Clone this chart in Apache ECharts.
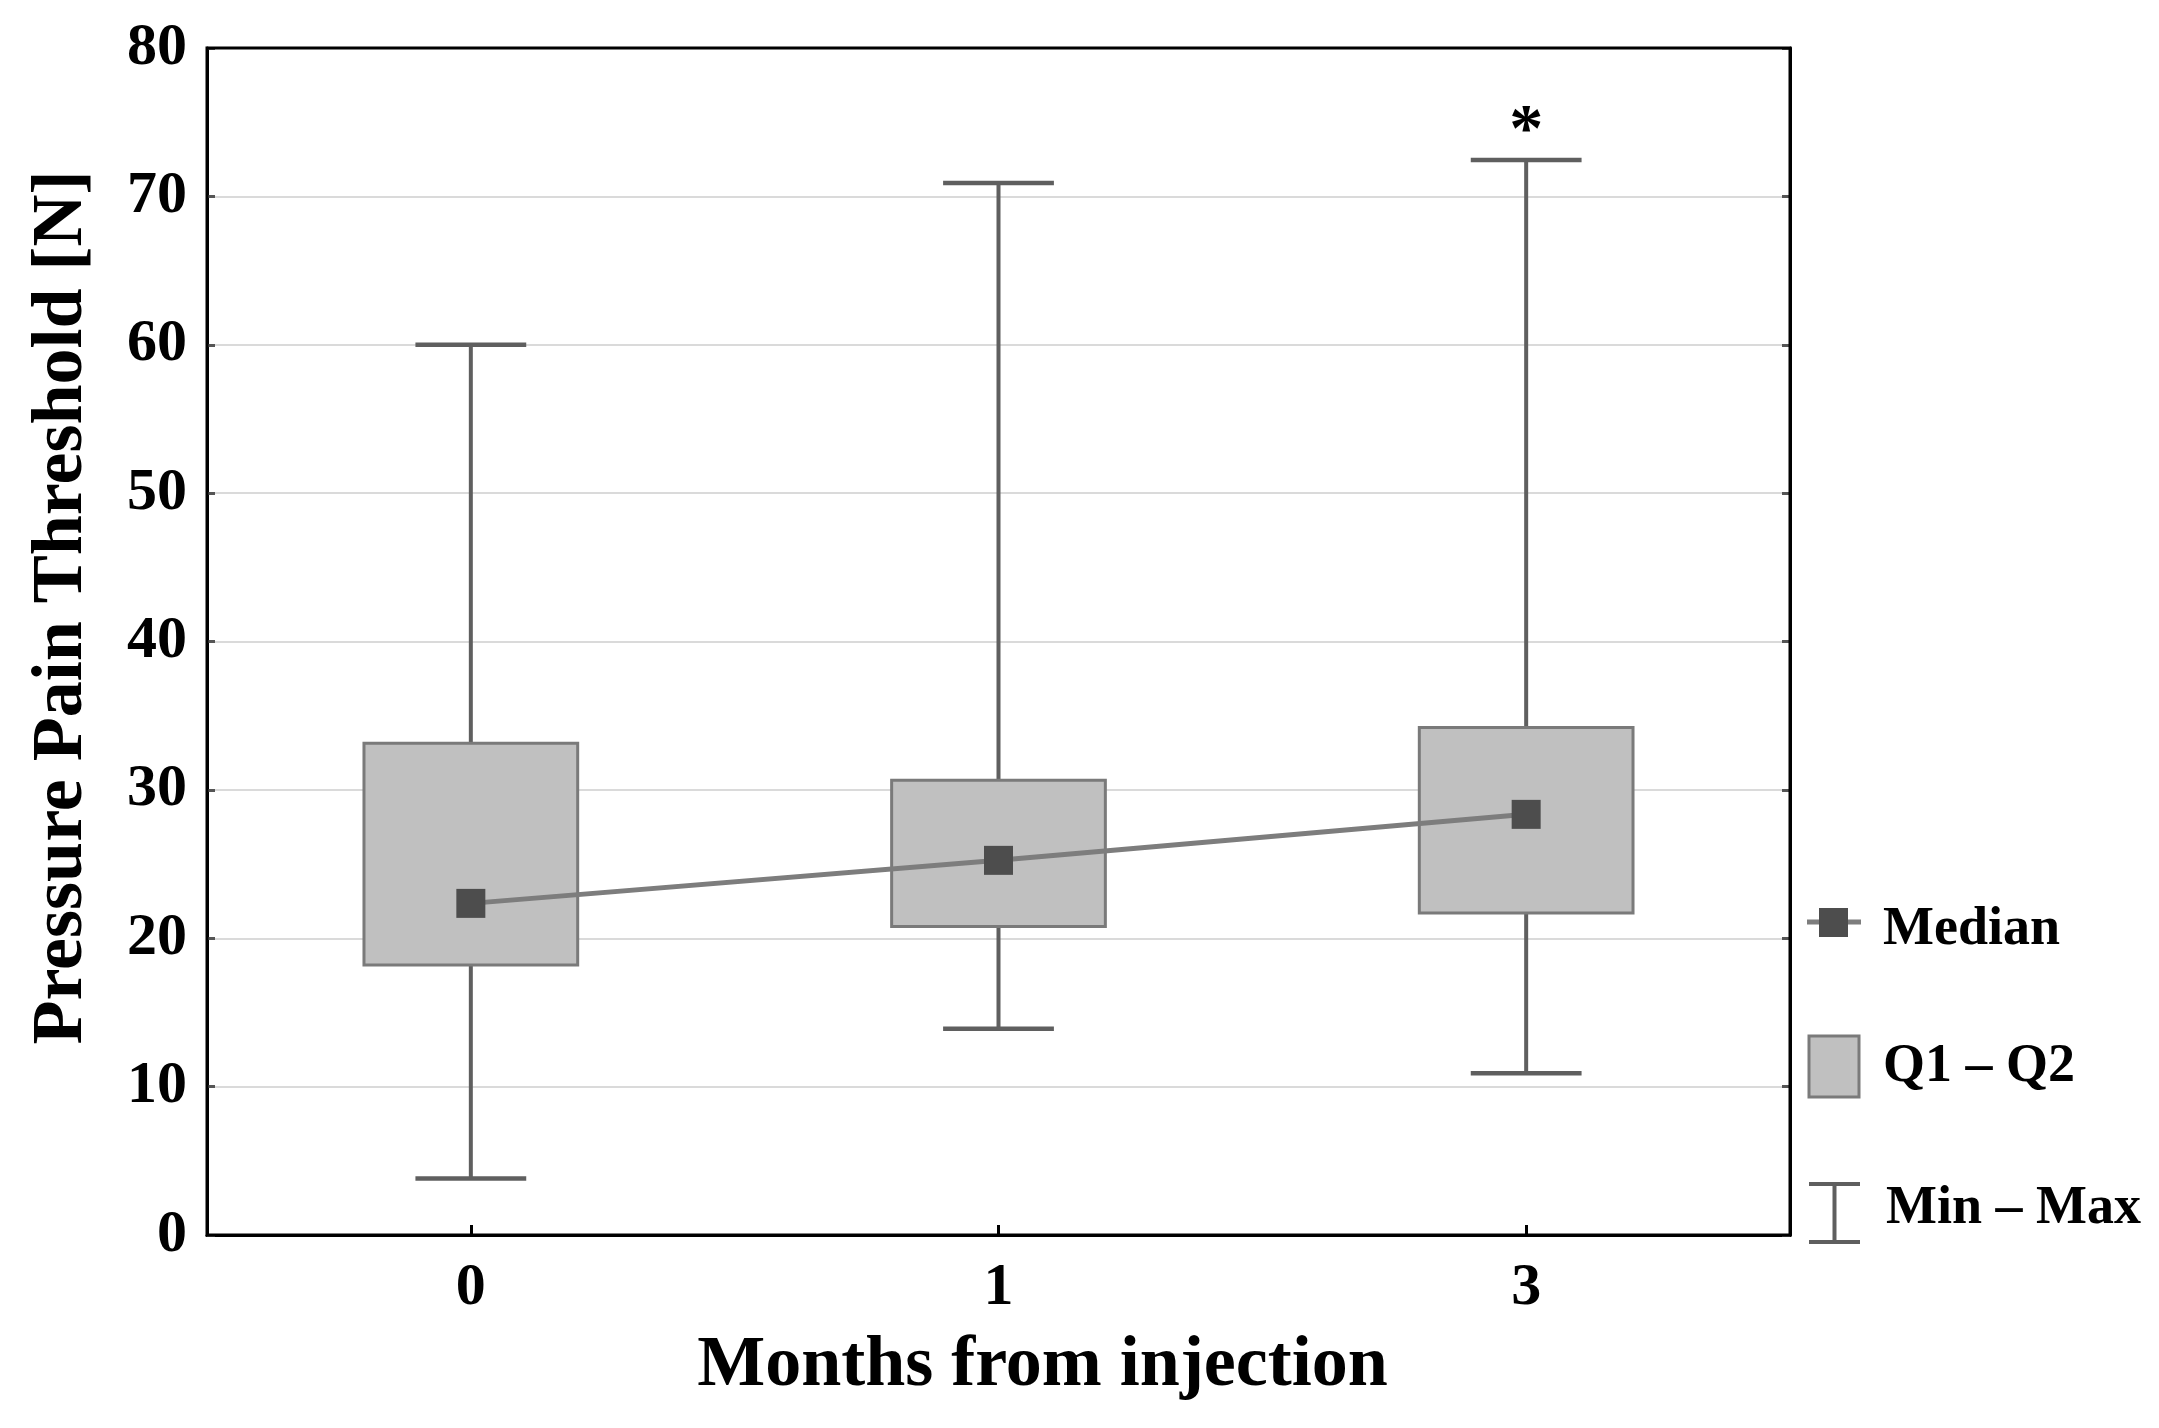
<!DOCTYPE html>
<html>
<head>
<meta charset="utf-8">
<script src="https://cdn.jsdelivr.net/npm/echarts@6/dist/echarts.min.js"></script>
<style>
html,body{margin:0;padding:0;background:#fff;}
#chart{width:2159px;height:1428px;}
</style>
</head>
<body>
<div id="chart"></div>
<script>
// ---- data ----
var categories = ['0', '1', '3'];
var mins    = [3.8, 13.9, 10.9];
var q1      = [18.2, 20.8, 21.7];
var medians = [22.35, 25.25, 28.35];
var q3      = [33.15, 30.65, 34.2];
var maxs    = [60.0, 70.9, 72.45];
var significance = ['', '', '*'];
var yTicks = [0, 10, 20, 30, 40, 50, 60, 70, 80];
var legendLabels = ['Median', 'Q1 \u2013 Q2', 'Min \u2013 Max'];

var FONT = '"Liberation Serif", "Times New Roman", serif';
var BOX_FILL = '#c0c0c0', BOX_EDGE = '#7a7a7a', WHISK = '#5f5f5f';
var MED_LINE = '#7d7d7d', MED_MARK = '#4d4d4d';

var boxData = categories.map(function (c, i) {
  return [i, mins[i], q1[i], q3[i], maxs[i]];
});

function renderBox(params, api) {
  var i = api.value(0);
  var pMin = api.coord([i, api.value(1)]);
  var pQ1 = api.coord([i, api.value(2)]);
  var pQ3 = api.coord([i, api.value(3)]);
  var pMax = api.coord([i, api.value(4)]);
  var band = api.size([1, 0])[0];
  var bw = band * 0.405, cw = band * 0.21;
  var cx = pMin[0];
  var children = [
    {type: 'line', shape: {x1: cx, y1: pMin[1], x2: cx, y2: pMax[1]},
     style: {stroke: WHISK, lineWidth: 4}},
    {type: 'rect', shape: {x: cx - bw / 2, y: pQ3[1], width: bw, height: pQ1[1] - pQ3[1]},
     style: {fill: BOX_FILL, stroke: BOX_EDGE, lineWidth: 3}},
    {type: 'line', shape: {x1: cx - cw / 2, y1: pMin[1], x2: cx + cw / 2, y2: pMin[1]},
     style: {stroke: WHISK, lineWidth: 4.5}},
    {type: 'line', shape: {x1: cx - cw / 2, y1: pMax[1], x2: cx + cw / 2, y2: pMax[1]},
     style: {stroke: WHISK, lineWidth: 4.5}}
  ];
  var sig = significance[params.dataIndex];
  if (sig) {
    children.push({type: 'text', style: {text: sig, x: cx, y: pMax[1] - 28,
      fontSize: 68, fontWeight: 'bold', fontFamily: FONT, fill: '#000',
      align: 'center', verticalAlign: 'middle'}});
  }
  return {type: 'group', children: children};
}

var chart = echarts.init(document.getElementById('chart'));
var labelStyle = {fontFamily: FONT, fontWeight: 'bold', fontSize: 60, color: '#000'};

var option = {
  backgroundColor: '#fff',
  animation: false,
  grid: {left: 207, right: 369, top: 48, bottom: 193, show: true,
         borderColor: '#000', borderWidth: 3, backgroundColor: 'transparent', z: 5},
  xAxis: {
    type: 'category', data: categories, boundaryGap: true,
    name: 'Months from injection', nameLocation: 'middle', nameGap: 95,
    nameTextStyle: {fontFamily: FONT, fontWeight: 'bold', fontSize: 72, color: '#000', padding: [0, 0, 0, 88]},
    axisLine: {show: true, lineStyle: {color: '#000', width: 3}},
    axisTick: {show: true, inside: true, alignWithLabel: true, length: 10, lineStyle: {color: '#000', width: 3}},
    axisLabel: Object.assign({margin: 23}, labelStyle),
    splitLine: {show: false}
  },
  yAxis: [{
    type: 'value', min: yTicks[0], max: yTicks[yTicks.length - 1], interval: yTicks[1] - yTicks[0],
    name: 'Pressure Pain Threshold [N]', nameLocation: 'middle', nameGap: 109, nameRotate: 90,
    nameTextStyle: {fontFamily: FONT, fontWeight: 'bold', fontSize: 72, color: '#000', padding: [0, 0, 0, 68]},
    axisLine: {show: true, lineStyle: {color: '#000', width: 3}},
    axisTick: {show: true, inside: true, length: 8, lineStyle: {color: '#555', width: 3}},
    axisLabel: Object.assign({margin: 20}, labelStyle),
    splitLine: {show: true, showMinLine: false, showMaxLine: false, lineStyle: {color: '#dadada', width: 2}}
  }, {
    type: 'value', position: 'right', min: yTicks[0], max: yTicks[yTicks.length - 1], interval: yTicks[1] - yTicks[0],
    axisLine: {show: true, lineStyle: {color: '#000', width: 3}},
    axisTick: {show: true, inside: true, length: 8, lineStyle: {color: '#555', width: 3}},
    axisLabel: {show: false},
    splitLine: {show: false}
  }],
  series: [{
    type: 'custom', name: 'Q1 \u2013 Q2', renderItem: renderBox, data: boxData,
    encode: {x: 0, y: [1, 2, 3, 4]}, z: 2
  }, {
    type: 'line', name: 'Median', data: medians, symbol: 'rect', symbolSize: 29,
    itemStyle: {color: MED_MARK}, lineStyle: {color: MED_LINE, width: 5}, z: 3
  }],
  graphic: [
    {type: 'line', shape: {x1: 1807, y1: 922, x2: 1861, y2: 922}, style: {stroke: MED_LINE, lineWidth: 5}},
    {type: 'rect', shape: {x: 1819, y: 908, width: 29, height: 29}, style: {fill: MED_MARK}},
    {type: 'text', style: {text: legendLabels[0], x: 1883, y: 930, fontFamily: FONT, fontWeight: 'bold', fontSize: 54, fill: '#000', verticalAlign: 'middle'}},
    {type: 'rect', shape: {x: 1809, y: 1036, width: 50, height: 61}, style: {fill: BOX_FILL, stroke: BOX_EDGE, lineWidth: 3}},
    {type: 'text', style: {text: legendLabels[1], x: 1883, y: 1067, fontFamily: FONT, fontWeight: 'bold', fontSize: 54, fill: '#000', verticalAlign: 'middle'}},
    {type: 'line', shape: {x1: 1809, y1: 1184, x2: 1860, y2: 1184}, style: {stroke: WHISK, lineWidth: 4}},
    {type: 'line', shape: {x1: 1834.5, y1: 1184, x2: 1834.5, y2: 1242}, style: {stroke: WHISK, lineWidth: 4}},
    {type: 'line', shape: {x1: 1809, y1: 1242, x2: 1860, y2: 1242}, style: {stroke: WHISK, lineWidth: 4}},
    {type: 'text', style: {text: legendLabels[2], x: 1886, y: 1209, fontFamily: FONT, fontWeight: 'bold', fontSize: 54, fill: '#000', verticalAlign: 'middle'}}
  ]
};
chart.setOption(option);
</script>
</body>
</html>
